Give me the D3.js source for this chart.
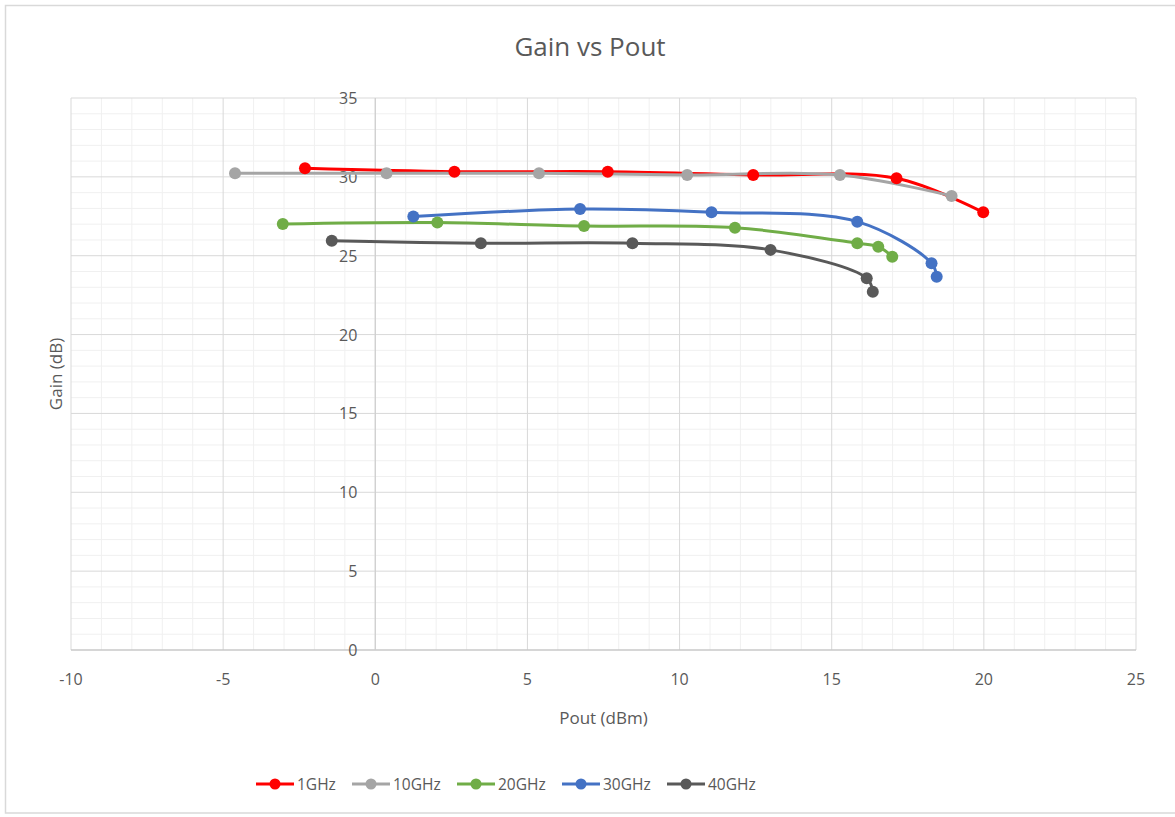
<!DOCTYPE html>
<html><head><meta charset="utf-8">
<script src="https://cdn.jsdelivr.net/npm/d3@7"></script>
<style>body{margin:0;background:#fff;} text{font-family:"Open Sans","Liberation Sans",sans-serif;}</style>
</head><body>
<svg id="c" width="1175" height="817"></svg>
<script>
const seriesNames = ["1GHz","10GHz","20GHz","30GHz","40GHz"];
const seriesColors = ["#ff0000","#a5a5a5","#70ad47","#4472c4","#595959"];
const pout1 = [-2.31, 2.60, 7.64, 12.42, 17.13, 19.98];
const gain1 = [30.54, 30.33, 30.33, 30.12, 29.91, 27.75];
const pout10 = [-4.61, 0.37, 5.38, 10.25, 15.27, 18.94];
const gain10 = [30.23, 30.23, 30.23, 30.12, 30.12, 28.79];
const pout20 = [-3.04, 2.04, 6.86, 11.82, 15.84, 16.53, 16.99];
const gain20 = [27.01, 27.10, 26.88, 26.78, 25.79, 25.57, 24.94];
const pout30 = [1.25, 6.73, 11.05, 15.84, 18.28, 18.45];
const gain30 = [27.48, 27.96, 27.76, 27.16, 24.52, 23.67];
const pout40 = [-1.43, 3.47, 8.45, 12.99, 16.15, 16.35];
const gain40 = [25.95, 25.79, 25.79, 25.37, 23.57, 22.72];
const xTicks = [-10,-5,0,5,10,15,20,25];
const yTicks = [0,5,10,15,20,25,30,35];
const titleText = "Gain vs Pout", xTitle = "Pout (dBm)", yTitle = "Gain (dB)";

const pouts = [pout1,pout10,pout20,pout30,pout40];
const gains = [gain1,gain10,gain20,gain30,gain40];
const series = seriesNames.map((n,i)=>({name:n,color:seriesColors[i],pts:pouts[i].map((x,j)=>[x,gains[i][j]])}));

const svg = d3.select("#c");
svg.append("rect").attr("x",5.5).attr("y",5.5).attr("width",1175).attr("height",807.5)
  .attr("fill","#fff").attr("stroke","#d9d9d9").attr("stroke-width",1.5);

const L=71,R=1136,T=98,B=650;
const x = d3.scaleLinear().domain([-10,25]).range([L,R]);
const y = d3.scaleLinear().domain([0,35]).range([B,T]);

const g = svg.append("g");
// minor grid
g.selectAll(".mx").data(d3.range(-10,26,1).filter(v=>v%5!==0)).enter().append("line")
  .attr("x1",d=>x(d)).attr("x2",d=>x(d)).attr("y1",T).attr("y2",B).attr("stroke","#f0f0f0").attr("stroke-width",1);
g.selectAll(".my").data(d3.range(0,36,1).filter(v=>v%5!==0)).enter().append("line")
  .attr("y1",d=>y(d)).attr("y2",d=>y(d)).attr("x1",L).attr("x2",R).attr("stroke","#f0f0f0").attr("stroke-width",1);
// major grid
g.selectAll(".Mx").data(xTicks).enter().append("line")
  .attr("x1",d=>x(d)).attr("x2",d=>x(d)).attr("y1",T).attr("y2",B).attr("stroke","#d9d9d9").attr("stroke-width",1);
g.selectAll(".My").data(yTicks).enter().append("line")
  .attr("y1",d=>y(d)).attr("y2",d=>y(d)).attr("x1",L).attr("x2",R).attr("stroke","#d9d9d9").attr("stroke-width",1);
// axes lines
g.append("line").attr("x1",L).attr("x2",R).attr("y1",B).attr("y2",B).attr("stroke","#bfbfbf").attr("stroke-width",1.2);
g.append("line").attr("x1",x(0)).attr("x2",x(0)).attr("y1",T).attr("y2",B).attr("stroke","#cfcfcf").attr("stroke-width",1.2);

// tick labels
g.selectAll(".xt").data(xTicks).enter().append("text")
  .attr("x",d=>x(d)).attr("y",B+35).attr("text-anchor","middle").attr("font-size",16).attr("fill","#595959").text(d=>d);
g.selectAll(".yt").data(yTicks).enter().append("text")
  .attr("x",x(0)-18).attr("y",d=>y(d)+6).attr("text-anchor","end").attr("font-size",16).attr("fill","#595959").text(d=>d);

// titles
svg.append("text").attr("x",590).attr("y",56).attr("text-anchor","middle").attr("font-size",26).attr("fill","#595959").text(titleText);
svg.append("text").attr("x",(L+R)/2).attr("y",724).attr("text-anchor","middle").attr("font-size",17).attr("fill","#595959").text(xTitle);
svg.append("text").attr("transform",`translate(62,${(T+B)/2}) rotate(-90)`).attr("text-anchor","middle").attr("font-size",17).attr("fill","#595959").text(yTitle);

// series
const line = d3.line().x(d=>x(d[0])).y(d=>y(d[1])).curve(d3.curveCatmullRom.alpha(0.5));
const sg = svg.append("g");
series.forEach(s=>{
  sg.append("path").attr("d",line(s.pts)).attr("fill","none").attr("stroke",s.color).attr("stroke-width",3).attr("stroke-linecap","round");
});
series.forEach(s=>{
  sg.selectAll(null).data(s.pts).enter().append("circle")
    .attr("cx",d=>x(d[0])).attr("cy",d=>y(d[1])).attr("r",6).attr("fill",s.color);
});

// legend
const legX = [256,352,457,562,667];
const lg = svg.append("g");
series.forEach((s,i)=>{
  const lx = legX[i], ly = 784;
  lg.append("line").attr("x1",lx).attr("x2",lx+38).attr("y1",ly).attr("y2",ly).attr("stroke",s.color).attr("stroke-width",3);
  lg.append("circle").attr("cx",lx+19).attr("cy",ly).attr("r",5.5).attr("fill",s.color);
  lg.append("text").attr("x",lx+41).attr("y",ly+6).attr("font-size",15.5).attr("fill","#595959").text(s.name);
});
</script>
</body></html>
